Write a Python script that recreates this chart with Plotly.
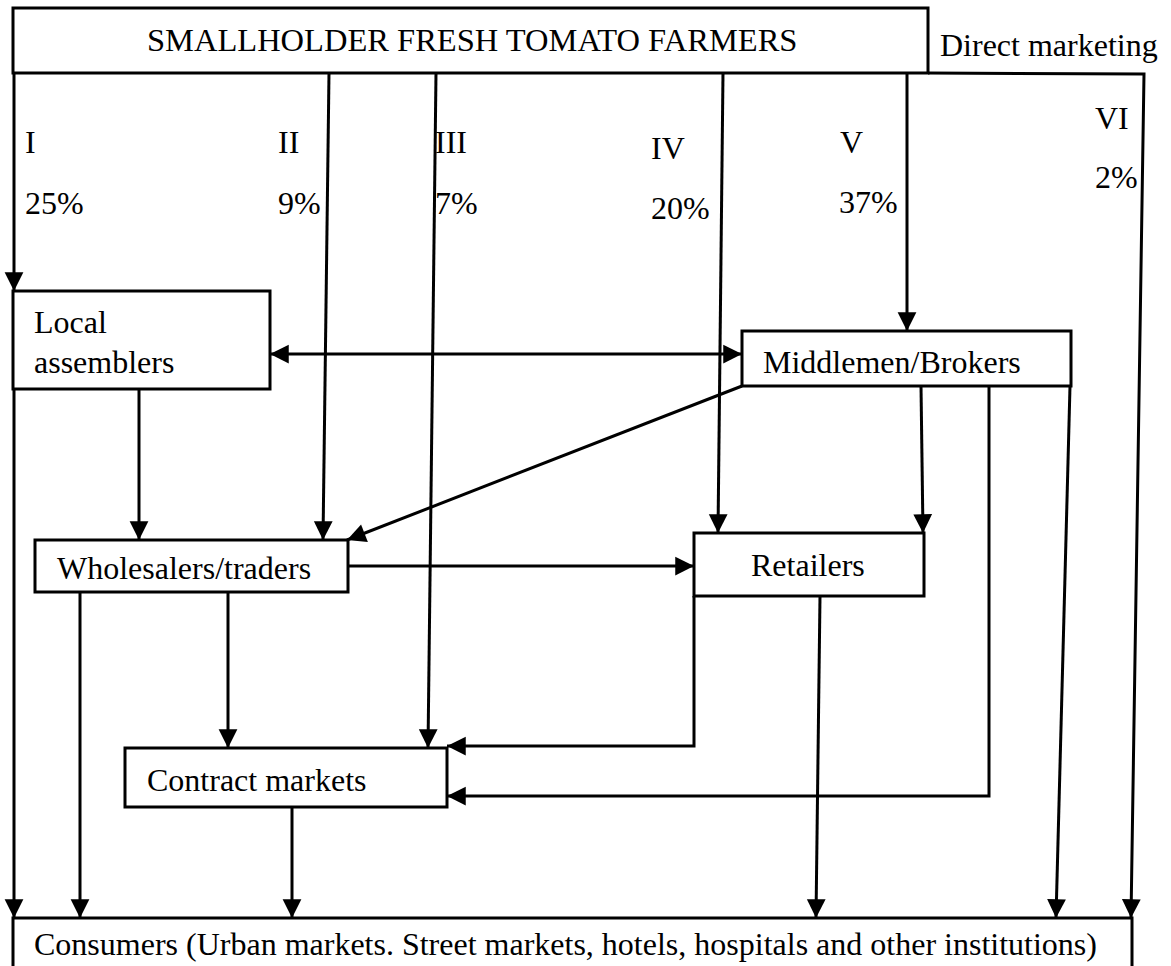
import plotly.graph_objects as go

# ---- data (structure of the marketing-channel diagram) ----
channels = ["I", "II", "III", "IV", "V", "VI"]
shares = [25, 9, 7, 20, 37, 2]
share_labels = [f"{s}%" for s in shares]
source_label = "SMALLHOLDER FRESH TOMATO FARMERS"
direct_label = "Direct marketing"
node_names = ["Local assemblers", "Middlemen/Brokers", "Wholesalers/traders",
              "Retailers", "Contract markets", "Consumers"]
consumer_label = "Consumers (Urban markets. Street markets, hotels, hospitals and other institutions)"

# ---- layout (pixel coordinates of the drawing, y grows downward) ----
boxes = {
    "src": (13, 928, 8, 73),
    "Local assemblers": (13, 270, 291, 389),
    "Middlemen/Brokers": (742, 1071, 331, 386),
    "Wholesalers/traders": (35, 348, 540, 592),
    "Retailers": (694, 924, 533, 596),
    "Contract markets": (125, 447, 748, 807),
    "Consumers": (13, 1132, 918, 1010),
}
paths = [
    [(14, 73), (14, 291)],                 # I
    [(329, 73), (323, 540)],               # II
    [(436, 73), (428, 748)],               # III
    [(723, 73), (718, 533)],               # IV
    [(907, 73), (907, 331)],               # V
    [(928, 73), (1144, 74), (1131, 918)],  # VI direct
    [(14, 389), (14, 918)],
    [(139, 389), (139, 540)],
    [(742, 386), (347, 540)],
    [(348, 566), (694, 566)],
    [(921, 386), (923, 533)],
    [(989, 386), (989, 796), (447, 796)],
    [(694, 596), (694, 746), (447, 746)],
    [(80, 592), (80, 918)],
    [(228, 592), (228, 748)],
    [(292, 807), (292, 918)],
    [(820, 596), (816, 918)],
    [(1070, 386), (1056, 918)],
]
double_arrow = [(270, 354), (742, 354)]
label_pos = [(26, 142, 26, 203), (279, 142, 279, 203), (436, 142, 436, 203),
             (652, 148, 652, 208), (841, 142, 840, 202), (1096, 118, 1096, 177)]
node_text_pos = {
    "Local assemblers": [("Local", 35, 322), ("assemblers", 35, 362)],
    "Middlemen/Brokers": [("Middlemen/Brokers", 764, 362)],
    "Wholesalers/traders": [("Wholesalers/traders", 58, 568)],
    "Retailers": [("Retailers", 752, 565)],
    "Contract markets": [("Contract markets", 148, 780)],
}

FONT = dict(family="Liberation Serif, Times New Roman, serif", size=32, color="black")
LW = 3
PAD = 3  # annotation inner padding compensation
HEAD = dict(arrowhead=2, arrowsize=1.25, arrowwidth=LW, arrowcolor="black", standoff=0)

fig = go.Figure()

for pts in paths + [double_arrow]:
    fig.add_trace(go.Scatter(x=[p[0] for p in pts], y=[p[1] for p in pts], mode="lines",
                             line=dict(color="black", width=LW),
                             hoverinfo="skip", showlegend=False))

shapes = []
for key, (x0, x1, y0, y1) in boxes.items():
    shapes.append(dict(type="rect", xref="x", yref="y", x0=x0, x1=x1, y0=y0, y1=y1,
                       line=dict(color="black", width=LW), fillcolor="white", layer="above"))

annotations = []


def head(tail, tip):
    (xa, ya), (xb, yb) = tail, tip
    d = ((xb - xa) ** 2 + (yb - ya) ** 2) ** 0.5
    back = 16
    return dict(x=xb, y=yb, ax=xb - (xb - xa) * back / d, ay=yb - (yb - ya) * back / d,
                xref="x", yref="y", axref="x", ayref="y", text="", showarrow=True, **HEAD)


def label(txt, x, y, anchor="left", size=None):
    f = dict(FONT)
    if size:
        f["size"] = size
    return dict(x=x - (PAD if anchor == "left" else 0), y=y, xref="x", yref="y", text=txt,
                showarrow=False, font=f, xanchor=anchor, yanchor="middle")


for pts in paths:
    annotations.append(head(pts[-2], pts[-1]))
annotations.append(head(double_arrow[0], double_arrow[1]))
annotations.append(head(double_arrow[1], double_arrow[0]))

# texts
annotations.append(label(source_label, 472, 40, anchor="center", size=32.5))
annotations.append(label(direct_label, 941, 45))
for ch, sl, (x1, y1, x2, y2) in zip(channels, share_labels, label_pos):
    annotations.append(label(ch, x1, y1))
    annotations.append(label(sl, x2, y2))
for name, items in node_text_pos.items():
    for txt, x, y in items:
        annotations.append(label(txt, x, y))
annotations.append(label(consumer_label, 35, 944))

fig.update_layout(
    width=1171, height=966,
    margin=dict(l=0, r=0, t=0, b=0),
    paper_bgcolor="white", plot_bgcolor="white",
    xaxis=dict(range=[0, 1171], visible=False, fixedrange=True),
    yaxis=dict(range=[966, 0], visible=False, fixedrange=True),
    shapes=shapes, annotations=annotations,
    showlegend=False,
)

fig.write_html("out.html", config={"displayModeBar": False},
               post_script="document.body.style.margin='0';")
